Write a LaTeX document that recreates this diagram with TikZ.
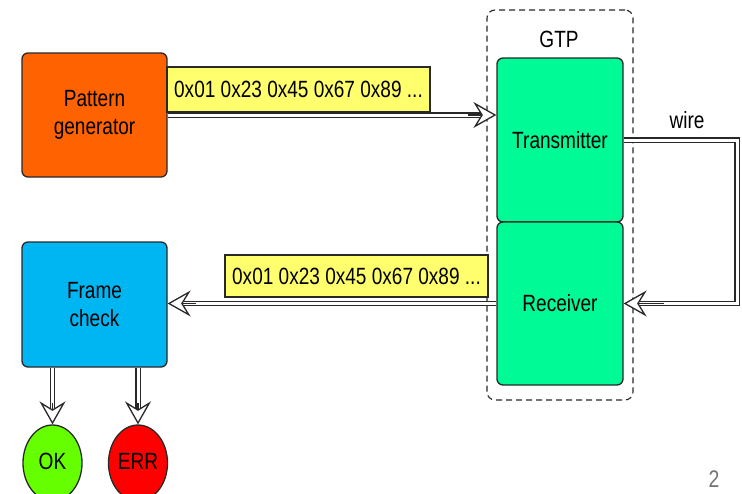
\documentclass[tikz,border=0pt]{standalone}
\usepackage{fontspec}
\setmainfont[FakeStretch=0.81]{Liberation Sans}
\usetikzlibrary{arrows.meta,shapes.geometric}

\definecolor{pgorange}{RGB}{255,98,0}
\definecolor{fcblue}{RGB}{0,182,242}
\definecolor{gtpgreen}{RGB}{0,250,150}
\definecolor{datayellow}{RGB}{255,255,110}
\definecolor{okgreen}{RGB}{102,255,0}
\definecolor{errred}{RGB}{255,0,0}
\definecolor{edge}{RGB}{40,40,40}

\tikzset{
  txt/.style={font=\fontsize{23.5}{28}\selectfont},
  block/.style={txt, draw=edge, line width=1.3pt, rounded corners=6pt,
    align=center, inner sep=0pt},
  datalabel/.style={txt, draw=edge, line width=1.1pt, fill=datayellow,
    inner sep=0pt},
  status/.style={ellipse, draw=edge, line width=1.3pt, inner sep=0pt},
  flow/.style={draw=edge, line width=1.3pt, double=white,
    double distance=3pt},
  flowhead/.style={draw=edge, line width=1.3pt,
    -{Stealth[length=23pt, width=26pt, inset=8pt, fill=white]}}
}

\begin{document}
\begin{tikzpicture}[x=1pt, y=-1pt]
  \useasboundingbox (0,0) rectangle (742,493);
  \clip (0,0) rectangle (742,493);

  % GTP enclosure
  \node[draw=edge, line width=1.1pt, dash pattern=on 6pt off 4pt,
        rounded corners=8pt, minimum width=146pt, minimum height=390pt,
        inner sep=0pt] (gtp) at (560,205) {};
  \node[txt] (gtplabel) at (559,39) {GTP};

  % blocks
  \node[block, fill=pgorange, minimum width=145pt, minimum height=124pt]
    (pg) at (94.5,115) {Pattern\\generator};
  \node[block, fill=fcblue, minimum width=145pt, minimum height=125pt]
    (fc) at (94.5,304.5) {Frame\\check};
  \node[block, fill=gtpgreen, minimum width=126pt, minimum height=164pt]
    (tx) at (560,140) {Transmitter};
  \node[block, fill=gtpgreen, minimum width=126pt, minimum height=163pt]
    (rx) at (560,303.5) {Receiver};

  % status outputs
  \node[status, fill=okgreen, minimum width=59pt, minimum height=76pt]
    (ok) at (52.5,463) {};
  \node[txt] (oktext) at (52.5,461) {OK};
  \node[status, fill=errred, minimum width=59pt, minimum height=76pt]
    (err) at (138,463) {};
  \node[txt] (errtext) at (138,461) {ERR};

  % data flow: pattern generator -> transmitter
  \coordinate (txin) at (pg.east -| tx.west);
  \draw[flow, shorten >=14pt] (pg.east) -- (txin);
  \draw[flowhead, shorten <=300pt] (pg.east) -- (txin);
  \node[datalabel, minimum width=263pt, minimum height=45pt]
    (data1) at (298.5,89.5) {0x01 0x23 0x45 0x67 0x89 ...};

  % loopback wire: transmitter -> receiver
  \coordinate (wirecorner) at (737,220);
  \draw[flow, shorten >=14pt] (tx.east) -| (wirecorner) |- (rx.east);
  \coordinate (rxtail) at ([xshift=40pt]rx.east);
  \draw[flowhead] (rxtail) -- (rx.east);
  \node[txt] (wirelabel) at (687,120) {wire};

  % data flow: receiver -> frame check
  \coordinate (fcin) at (rx.west -| fc.east);
  \draw[flow, shorten >=14pt] (rx.west) -- (fcin);
  \draw[flowhead, shorten <=300pt] (rx.west) -- (fcin);
  \node[datalabel, minimum width=263pt, minimum height=42pt]
    (data2) at (356.5,276) {0x01 0x23 0x45 0x67 0x89 ...};

  % frame check results
  \coordinate (okout) at (fc.south -| ok.north);
  \coordinate (errout) at (fc.south -| err.north);
  \draw[flow, shorten >=14pt] (okout) -- (ok.north);
  \draw[flowhead, shorten <=35pt] (okout) -- (ok.north);
  \draw[flow, shorten >=14pt] (errout) -- (err.north);
  \draw[flowhead, shorten <=35pt] (errout) -- (err.north);

  % slide number
  \node[font=\fontsize{24}{28}\selectfont, text=black!55, inner sep=0pt,
        anchor=south] (pagenum) at (714,488) {2};
\end{tikzpicture}
\end{document}
